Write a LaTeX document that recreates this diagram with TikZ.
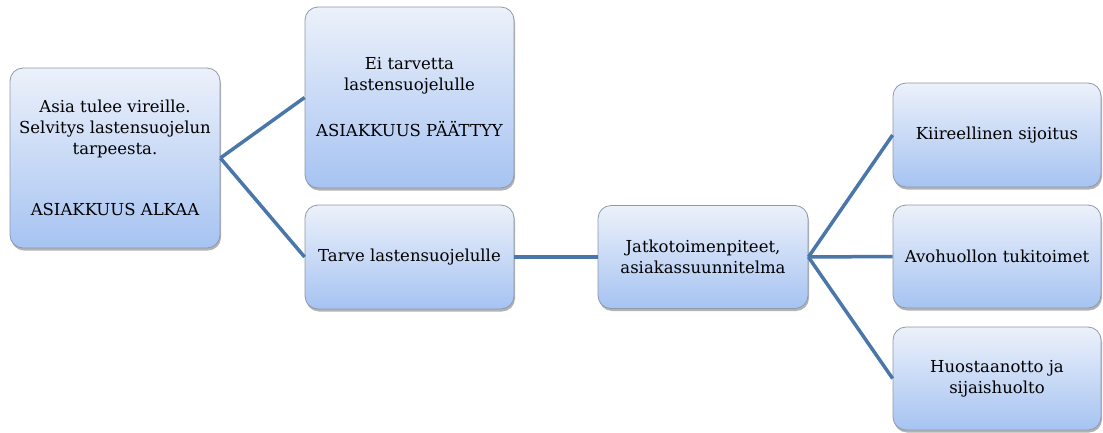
\documentclass[tikz,border=0pt]{standalone}
\usepackage{fontspec}
\setmainfont{DejaVu Serif}
\usetikzlibrary{shadows}
\definecolor{boxtop}{HTML}{ECF1FA}
\definecolor{boxbot}{HTML}{A6C3F2}
\definecolor{linkblue}{HTML}{4A77A9}
\definecolor{boxline}{HTML}{8E99A8}

\begin{document}
\begin{tikzpicture}[x=1pt,y=-1pt,
  boxstyle/.style={rectangle,rounded corners=13pt,draw=boxline,line width=0.8pt,top color=boxtop,bottom color=boxbot,align=center,inner sep=0pt,font=\fontsize{16.5}{21}\selectfont,drop shadow={shadow xshift=1pt,shadow yshift=-2.5pt,fill=black!50,opacity=0.6}},
  linkstyle/.style={draw=linkblue,line width=3.5pt}]
\useasboundingbox (0,0) rectangle (1103,432);
       \node [boxstyle,minimum width=210pt,minimum height=180pt] (start) at (115,158) {Asia tulee vireille.\\Selvitys lastensuojelun\\tarpeesta.\\[40pt]ASIAKKUUS ALKAA};
       \node [boxstyle,minimum width=209pt,minimum height=181pt] (ends) at (409.5,97.5) {Ei tarvetta\\lastensuojelulle\\[25pt]ASIAKKUUS PÄÄTTYY};
       \node [boxstyle,minimum width=209pt,minimum height=104pt] (need) at (409.5,257) {Tarve lastensuojelulle};
       \node [boxstyle,minimum width=210pt,minimum height=103pt] (plan) at (703,257) {Jatkotoimenpiteet,\\asiakassuunnitelma};
       \node [boxstyle,minimum width=208pt,minimum height=104pt] (urgent) at (997,135) {Kiireellinen sijoitus};
       \node [boxstyle,minimum width=208pt,minimum height=103pt] (open) at (997,256.5) {Avohuollon tukitoimet};
       \node [boxstyle,minimum width=208pt,minimum height=103pt] (custody) at (997,378.5) {Huostaanotto ja\\sijaishuolto};
\draw [linkstyle] (start.east)--(ends.west) ;
\draw [linkstyle] (start.east)--(need.west) ;
\draw [linkstyle] (need.east)--(plan.west) ;
\draw [linkstyle] (plan.east)--(urgent.west) ;
\draw [linkstyle] (plan.east)--(open.west) ;
\draw [linkstyle] (plan.east)--(custody.west) ;
\end{tikzpicture}
\end{document}
